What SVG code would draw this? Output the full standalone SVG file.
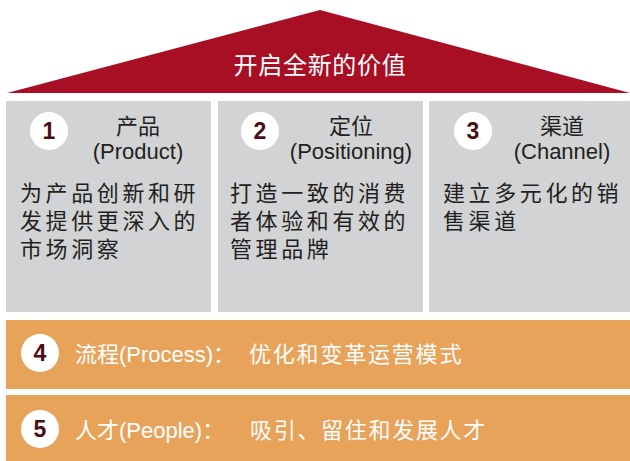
<svg xmlns="http://www.w3.org/2000/svg" width="630" height="461" viewBox="0 0 630 461">
  <style>
    .pillar { fill: #D1D3D4; }
    .band { fill: #E8A35B; }
    .badge { fill: #FFFFFF; }
    .num { font-family: "Liberation Sans", Arial, sans-serif; font-weight: bold; font-size: 23px; fill: #4A0E13; text-anchor: middle; }
    .head { font-family: "Liberation Sans", "Noto Sans CJK SC", sans-serif; font-size: 22px; fill: #231F20; text-anchor: middle; }
    .body { font-family: "Noto Sans CJK SC", sans-serif; font-size: 22px; fill: #231F20; letter-spacing: 3.6px; }
    .bandtext { font-family: "Liberation Sans", "Noto Sans CJK SC", sans-serif; font-size: 22px; fill: #FFFFFF; }
    .rooftext { font-family: "Noto Sans CJK SC", sans-serif; font-size: 24px; fill: #FFFFFF; text-anchor: middle; letter-spacing: 0.7px; }
  </style>

  <!-- roof -->
  <g id="roof">
    <polygon points="7,93 320,10 630,93" fill="#A80F24"/>
    <text class="rooftext" x="320" y="74">开启全新的价值</text>
  </g>

  <!-- pillar 1 -->
  <g id="product">
    <rect class="pillar" x="6" y="101" width="205" height="211"/>
    <circle class="badge" cx="49" cy="131" r="19"/>
    <text class="num" x="49" y="139">1</text>
    <text class="head" x="138" y="134">产品</text>
    <text class="head" x="138" y="159">(Product)</text>
    <text class="body" x="20" y="201">为产品创新和研</text>
    <text class="body" x="20" y="229">发提供更深入的</text>
    <text class="body" x="20" y="257">市场洞察</text>
  </g>

  <!-- pillar 2 -->
  <g id="positioning">
    <rect class="pillar" x="218" y="101" width="205" height="211"/>
    <circle class="badge" cx="260" cy="131" r="19"/>
    <text class="num" x="260" y="139">2</text>
    <text class="head" x="351" y="134">定位</text>
    <text class="head" x="351" y="159">(Positioning)</text>
    <text class="body" x="230" y="201">打造一致的消费</text>
    <text class="body" x="230" y="229">者体验和有效的</text>
    <text class="body" x="230" y="257">管理品牌</text>
  </g>

  <!-- pillar 3 -->
  <g id="channel">
    <rect class="pillar" x="429" y="101" width="201" height="211"/>
    <circle class="badge" cx="473" cy="131" r="19"/>
    <text class="num" x="473" y="139">3</text>
    <text class="head" x="562" y="134">渠道</text>
    <text class="head" x="562" y="159">(Channel)</text>
    <text class="body" x="443" y="201">建立多元化的销</text>
    <text class="body" x="443" y="229">售渠道</text>
  </g>

  <!-- foundation band 4 -->
  <g id="process">
    <rect class="band" x="6" y="320" width="624" height="69"/>
    <circle class="badge" cx="40" cy="353" r="19"/>
    <text class="num" x="40" y="361">4</text>
    <text class="bandtext" x="75" y="362">流程(Process)：</text>
    <text class="bandtext" x="249" y="362" letter-spacing="1.8">优化和变革运营模式</text>
  </g>

  <!-- foundation band 5 -->
  <g id="people">
    <rect class="band" x="6" y="395" width="624" height="66"/>
    <circle class="badge" cx="40" cy="429" r="19"/>
    <text class="num" x="40" y="437">5</text>
    <text class="bandtext" x="75" y="438">人才(People)：</text>
    <text class="bandtext" x="250" y="438" letter-spacing="1.7">吸引、留住和发展人才</text>
  </g>

  <g id="connectors"/>
</svg>
